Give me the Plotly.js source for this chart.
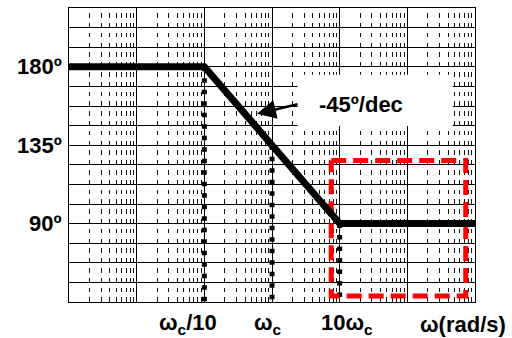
<!DOCTYPE html>
<html>
<head>
<meta charset="utf-8">
<script src="https://cdn.plot.ly/plotly-3.0.1.min.js"></script>
<style>
html,body{margin:0;padding:0;background:#fff;}
#chart{width:512px;height:338px;}
</style>
</head>
<body>
<div id="chart"></div>
<script>
// ---- data (ωc normalised to 1 rad/s) ----
const freq = [0.001, 0.1, 10, 1000];          // asymptote break points
const phase = [180, 180, 90, 90];             // phase in degrees
const markerFreq = [0.1, 1, 10];              // ωc/10, ωc, 10ωc
const markerPhase = [180, 135, 90];
const markerLabels = ['ω<sub>c</sub>/10', 'ω<sub>c</sub>', '10ω<sub>c</sub>'];
const phaseTickVals = [180, 135, 90];
const phaseTickText = ['180º', '135º', '90º'];
const axisLabel = 'ω(rad/s)';
const slopeLabel = '-45º/dec';
const slopeArrowTip = [0.6, 153];             // point on the slope the arrow refers to
const highlightFreq = [7.5, 730];             // red dashed region
const highlightPhase = [48.5, 126.2];
const freqRange = [0.001, 1000];
const phaseRange = [45, 213.75];
const phaseGridStep = 11.25;

const FONT = 'Liberation Sans, Arial, Helvetica, sans-serif';

const traces = [];
// dotted drop lines
for (let i = 0; i < markerFreq.length; i++) {
  traces.push({
    x: [markerFreq[i], markerFreq[i]],
    y: [markerPhase[i], phaseRange[0]],
    mode: 'lines', hoverinfo: 'skip', showlegend: false,
    line: {color: '#000', width: 5, dash: '4.5px,7px'}
  });
}
// red dashed highlight rectangle
traces.push({
  x: [highlightFreq[0], highlightFreq[1], highlightFreq[1], highlightFreq[0], highlightFreq[0]],
  y: [highlightPhase[1], highlightPhase[1], highlightPhase[0], highlightPhase[0], highlightPhase[1]],
  mode: 'lines', hoverinfo: 'skip', showlegend: false,
  line: {color: '#ff0000', width: 5, dash: '15px,7px'}
});
// asymptotic phase curve
traces.push({
  x: freq, y: phase, mode: 'lines', showlegend: false, cliponaxis: false,
  line: {color: '#000', width: 7}
});

const annotations = [];
for (let i = 0; i < phaseTickVals.length; i++) {
  annotations.push({
    xref: 'paper', yref: 'y', x: 0, y: phaseTickVals[i],
    xanchor: 'right', yanchor: 'middle', xshift: -5, showarrow: false,
    text: phaseTickText[i], font: {family: FONT, size: 22, color: '#000', weight: 'bold'}
  });
}
const labelShift = [-16, -4, 7];
for (let i = 0; i < markerFreq.length; i++) {
  annotations.push({
    xref: 'x', yref: 'paper', x: Math.log10(markerFreq[i]), y: 0,
    xanchor: 'center', yanchor: 'middle', yshift: -22, xshift: labelShift[i], showarrow: false,
    text: markerLabels[i], font: {family: FONT, size: 22, color: '#000', weight: 'bold'}
  });
}
annotations.push({
  xref: 'paper', yref: 'paper', x: 0.97, y: 0, xanchor: 'center', yanchor: 'middle',
  yshift: -22, showarrow: false, text: axisLabel,
  font: {family: FONT, size: 22, color: '#000', weight: 'bold'}
});
annotations.push({
  xref: 'paper', yref: 'paper', x: 0.719, y: 0.672, xanchor: 'center', yanchor: 'middle',
  showarrow: false, text: slopeLabel,
  font: {family: FONT, size: 22, color: '#000', weight: 'bold'}
});
annotations.push({
  xref: 'x', yref: 'y', x: Math.log10(slopeArrowTip[0]), y: slopeArrowTip[1],
  text: '', showarrow: true, ax: 42, ay: -10,
  arrowhead: 2, arrowsize: 1.4, arrowwidth: 2.7, arrowcolor: '#000'
});

const layout = {
  width: 512, height: 338,
  margin: {l: 69, r: 37, t: 8, b: 36, pad: 0},
  paper_bgcolor: '#fff', plot_bgcolor: '#fff',
  showlegend: false,
  xaxis: {
    type: 'log', range: [Math.log10(freqRange[0]), Math.log10(freqRange[1])],
    dtick: 1, showticklabels: false, ticks: '',
    showgrid: true, gridcolor: '#000', gridwidth: 1,
    minor: {dtick: 'D1', showgrid: true, gridcolor: '#111', gridwidth: 1, griddash: '0px,5.2px,4.6px,0px', ticks: ''},
    showline: true, mirror: true, linecolor: '#000', linewidth: 1, zeroline: false
  },
  yaxis: {
    range: phaseRange, tick0: phaseRange[0], dtick: phaseGridStep,
    showticklabels: false, ticks: '',
    showgrid: true, gridcolor: '#000', gridwidth: 1,
    showline: true, mirror: true, linecolor: '#000', linewidth: 1, zeroline: false
  },
  shapes: [{
    type: 'rect', xref: 'paper', yref: 'paper', x0: 0.563, x1: 0.945, y0: 0.599, y1: 0.773,
    fillcolor: '#fff', line: {width: 0}, layer: 'above'
  }],
  annotations: annotations
};

Plotly.newPlot('chart', traces, layout, {staticPlot: true, displayModeBar: false});
</script>
</body>
</html>
